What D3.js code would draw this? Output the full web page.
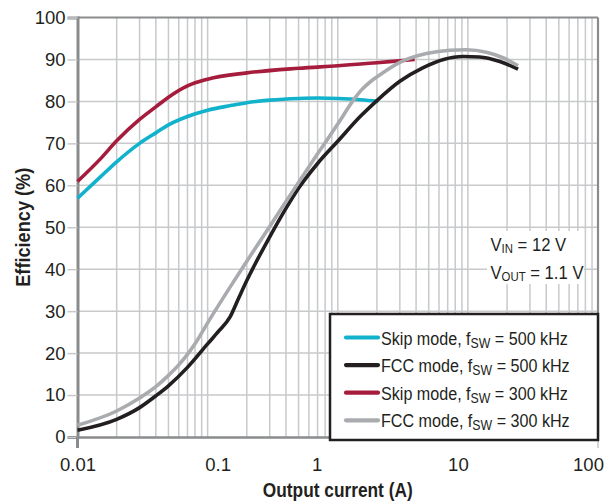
<!DOCTYPE html>
<html><head><meta charset="utf-8">
<script src="https://cdn.jsdelivr.net/npm/d3@7"></script>
<style>
html,body{margin:0;padding:0;background:#fff;}
svg{display:block;}
text{font-family:"Liberation Sans",Arial,sans-serif;fill:#231f20;}
</style></head>
<body>
<svg id="c" width="610" height="504"></svg>
<script>
// ---- data ----
const xTickValues = [0.01, 0.1, 1, 10, 100];
const xTickLabels = ["0.01", "0.1", "1", "10", "100"];
const yTickValues = [0, 10, 20, 30, 40, 50, 60, 70, 80, 90, 100];

const skip500I = [0.01, 0.015, 0.02, 0.03, 0.04, 0.05, 0.07, 0.1, 0.15, 0.2, 0.3, 0.5, 0.7, 1, 1.5, 2.05];
const skip500E = [56.9, 62.0, 65.6, 70.0, 72.5, 74.4, 76.4, 77.9, 79.0, 79.7, 80.3, 80.7, 80.8, 80.7, 80.4, 80.0];

const skip300I = [0.01, 0.015, 0.02, 0.03, 0.04, 0.05, 0.07, 0.1, 0.2, 0.5, 1, 2, 3, 3.9];
const skip300E = [60.9, 66.3, 70.6, 75.7, 78.7, 81.0, 83.7, 85.3, 86.8, 87.9, 88.5, 89.2, 89.7, 90.0];

const fcc500I = [0.01, 0.02, 0.03, 0.04, 0.05, 0.07, 0.1, 0.123, 0.148, 0.172, 0.2, 0.3, 0.4, 0.5, 0.7, 1, 1.5, 2, 3, 4.5, 6.5, 9.2, 12.3, 17.6, 24.3];
const fcc500E = [1.6, 4.2, 7.0, 9.8, 12.2, 16.6, 22.2, 25.4, 28.5, 32.9, 37.3, 47.7, 54.5, 59.3, 65.2, 70.5, 76.5, 80.2, 84.8, 88.0, 90.0, 90.7, 90.6, 89.5, 87.7];

const fcc300I = [0.01, 0.02, 0.03, 0.04, 0.05, 0.06, 0.07, 0.08, 0.1, 0.15, 0.2, 0.3, 0.5, 0.7, 1, 1.34, 1.53, 1.8, 2.1, 3.0, 4.8, 7.3, 9.75, 13.9, 18.6, 24.3];
const fcc300E = [2.8, 6.2, 9.3, 12.0, 14.7, 17.2, 19.7, 22.2, 27.2, 35.9, 41.9, 50.2, 60.7, 67.5, 74.6, 80.6, 82.8, 84.8, 86.3, 89.3, 91.4, 92.2, 92.3, 91.7, 90.4, 88.5];

const seriesNames = ["Skip mode", "FCC mode", "Skip mode", "FCC mode"];
const seriesFreq = ["500 kHz", "500 kHz", "300 kHz", "300 kHz"];
const annotVin = ["V", "IN", " = 12 V"];
const annotVout = ["V", "OUT", " = 1.1 V"];
const xTitle = "Output current (A)";
const yTitle = "Efficiency (%)";

// ---- layout / style ----
const L = 77.5, R = 598, T = 17.5, B = 437;
const colors = ["#12b2cc", "#231f20", "#a51c3c", "#a9abae"];
const labelDx = [0, 10, -21, -10, -10];

const svg = d3.select("#c");
const x = d3.scaleLog().domain([0.01, 100]).range([L, R]);
const y = d3.scaleLinear().domain([0, 100]).range([B, T]);

// squeeze a text horizontally to a target width (condensed face emulation)
function fit(sel, targetW, base) {
  const w = sel.node().getBBox().width;
  const f = targetW / w;
  sel.attr("x", 0).attr("y", 0).attr("transform", base + ` scale(${f},1)`);
  return f;
}
function fitF(sel, f, base) {
  sel.attr("x", 0).attr("y", 0).attr("transform", base + ` scale(${f},1)`);
}

// gridlines
const grid = svg.append("g");
grid.selectAll("line.v").data(x.ticks().filter(v => v > 0.0100001 && v < 99.999))
  .join("line").attr("x1", d => x(d)).attr("x2", d => x(d)).attr("y1", T).attr("y2", B)
  .attr("stroke", "#c8c9cb").attr("stroke-width", 1.5);
grid.selectAll("line.h").data(yTickValues.filter(v => v > 0 && v < 100))
  .join("line").attr("x1", L).attr("x2", R).attr("y1", d => y(d)).attr("y2", d => y(d))
  .attr("stroke", "#c8c9cb").attr("stroke-width", 1.5);

// frame
svg.append("line").attr("x1", L).attr("x2", R).attr("y1", T).attr("y2", T).attr("stroke", "#8a8b8d").attr("stroke-width", 2.2);
svg.append("line").attr("x1", R).attr("x2", R).attr("y1", T).attr("y2", B).attr("stroke", "#8a8b8d").attr("stroke-width", 2.2);

// y axis
const yAxis = d3.axisLeft(y).tickValues(yTickValues).tickSize(10).tickPadding(2).tickFormat(d3.format("d"));
const gy = svg.append("g").attr("transform", `translate(${L},0)`).call(yAxis);
gy.select(".domain").attr("stroke", "#8a8b8d").attr("stroke-width", 3);
gy.selectAll(".tick line").attr("stroke", "#c8c9cb").attr("stroke-width", 1.5);
gy.selectAll(".tick text").attr("font-size", 18.5).attr("fill", "#231f20")
  .style("font-family", '"Liberation Sans",Arial,sans-serif');

// x axis
const xAxis = d3.axisBottom(x).tickValues(xTickValues).tickSize(0).tickPadding(0)
  .tickFormat((d, i) => xTickLabels[i]);
const gx = svg.append("g").attr("transform", `translate(0,${B})`).call(xAxis);
gx.select(".domain").attr("stroke", "#8a8b8d").attr("stroke-width", 2.5);
gx.selectAll(".tick text").attr("font-size", 18.5).attr("fill", "#231f20")
  .attr("dy", 0).attr("y", 34).attr("dx", (d, i) => labelDx[i])
  .style("font-family", '"Liberation Sans",Arial,sans-serif');
// end ticks
svg.append("g").selectAll("line").data([0.01, 100]).join("line")
  .attr("x1", d => x(d)).attr("x2", d => x(d)).attr("y1", B).attr("y2", B + 11)
  .attr("stroke", (d, i) => i === 0 ? "#8a8b8d" : "#c8c9cb").attr("stroke-width", (d, i) => i === 0 ? 3 : 1.5);

// annotation box
const ann = svg.append("g");
ann.append("rect").attr("x", 487).attr("y", 231).attr("width", 97).attr("height", 53).attr("fill", "#fff");
function subText(g, parts, subSize, subDy) {
  const t = g.append("text").attr("font-size", 19);
  t.append("tspan").text(parts[0]);
  t.append("tspan").attr("font-size", subSize).attr("dy", subDy).text(parts[1]);
  t.append("tspan").attr("dy", -subDy).text(parts[2]);
  return t;
}
const t1 = subText(ann, annotVin, 13, 2);
const fa = fit(t1, 76, "translate(490.5,251)");
const t2 = subText(ann, annotVout, 13, 2);
fitF(t2, fa, "translate(490.5,278.5)");

// curves
const line = d3.line().x(d => x(d[0])).y(d => y(d[1])).curve(d3.curveMonotoneX);
const series = [
  [skip500I, skip500E, 0],
  [skip300I, skip300E, 2],
  [fcc500I, fcc500E, 1],
  [fcc300I, fcc300E, 3]
];
svg.append("g").selectAll("path").data(series).join("path")
  .attr("d", s => line(d3.zip(s[0], s[1])))
  .attr("fill", "none").attr("stroke", s => colors[s[2]]).attr("stroke-width", 3.6)
  .attr("stroke-linecap", "butt").attr("stroke-linejoin", "round");

// legend
const lg = svg.append("g");
lg.append("rect").attr("x", 330).attr("y", 314).attr("width", 268).attr("height", 126)
  .attr("fill", "#fff").attr("stroke", "#231f20").attr("stroke-width", 2.5);
let lf = null;
seriesNames.forEach((nm, i) => {
  const cy = 337.5 + i * 27.6;
  lg.append("line").attr("x1", 346).attr("x2", 378).attr("y1", cy).attr("y2", cy)
    .attr("stroke", colors[i]).attr("stroke-width", 4.2).attr("stroke-linecap", "round");
  const t = lg.append("text").attr("font-size", 19);
  t.append("tspan").text(nm + ", f");
  t.append("tspan").attr("font-size", 14.5).attr("dy", 3).text("SW");
  t.append("tspan").attr("dy", -3).text(" = " + seriesFreq[i]);
  const base = `translate(381,${cy + 7})`;
  if (lf === null) lf = fit(t, 187, base); else fitF(t, lf, base);
});

// axis titles
const xt = svg.append("text").attr("text-anchor", "middle")
  .attr("font-size", 19.5).attr("font-weight", "bold").text(xTitle);
fit(xt, 150, `translate(${(L + R) / 2},497)`);
const yt = svg.append("text").attr("text-anchor", "middle")
  .attr("font-size", 19.5).attr("font-weight", "bold").text(yTitle);
fit(yt, 119, `translate(30,${(T + B) / 2}) rotate(-90)`);
</script>
</body></html>
